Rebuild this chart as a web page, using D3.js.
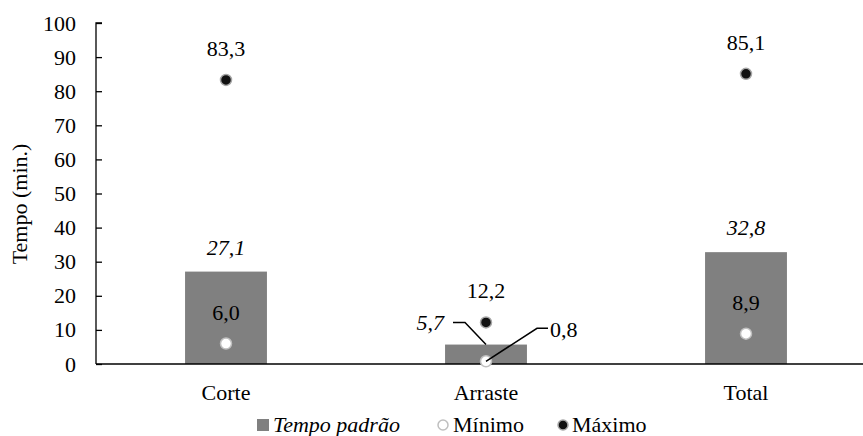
<!DOCTYPE html>
<html>
<head>
<meta charset="utf-8">
<script src="https://cdn.jsdelivr.net/npm/d3@7"></script>
<style>
  body { margin: 0; background: #fff; }
  svg text { font-family: "Liberation Serif", serif !important; }
</style>
</head>
<body>
<div id="chart"></div>
<script>
// data
const categories = ["Corte", "Arraste", "Total"];
const tempoPadrao = [27.1, 5.7, 32.8];
const minimo = [6.0, 0.8, 8.9];
const maximo = [83.3, 12.2, 85.1];
const yTicks = [0, 10, 20, 30, 40, 50, 60, 70, 80, 90, 100];

const width = 863, height = 436;
const FONT = "Liberation Serif";
const FS = 22;
const fmt = v => d3.format(".1f")(v).replace(".", ",");

const svg = d3.select("#chart")
    .append("svg")
    .attr("width", width)
    .attr("height", height);

const x = d3.scaleBand()
    .domain(categories)
    .range([96, 876])
    .paddingInner(0.685)
    .paddingOuter(0.3425);

const y = d3.scaleLinear()
    .domain([0, 100])
    .range([364, 23]);

// helper for all text
function label(sel) {
    return sel.attr("font-family", FONT)
        .style("font-family", FONT, "important")
        .attr("font-size", FS);
}

// bars
svg.selectAll("rect.bar")
    .data(categories)
    .join("rect")
    .attr("class", "bar")
    .attr("x", d => x(d))
    .attr("y", (d, i) => y(tempoPadrao[i]))
    .attr("width", x.bandwidth())
    .attr("height", (d, i) => y(0) - y(tempoPadrao[i]))
    .attr("fill", "#808080");

// y axis (ticks point inside, labels drawn separately)
const yAxis = svg.append("g")
    .attr("transform", `translate(96,0)`)
    .call(d3.axisRight(y).tickValues(yTicks).tickSize(6).tickFormat(""));
yAxis.select(".domain").attr("d", `M6,${y(100)}H0V${y(0)}`).attr("stroke", "#000").attr("stroke-width", 1.3);
yAxis.selectAll(".tick line").attr("stroke", "#000").attr("stroke-width", 1.3);
yAxis.selectAll(".tick text").remove();

svg.selectAll("text.ytick")
    .data(yTicks)
    .join("text")
    .attr("class", "ytick")
    .attr("x", 76)
    .attr("y", d => y(d) + 7.5)
    .attr("text-anchor", "end")
    .call(label)
    .text(d => d);

// x axis
svg.append("line")
    .attr("x1", 96).attr("x2", 876)
    .attr("y1", y(0)).attr("y2", y(0))
    .attr("stroke", "#000").attr("stroke-width", 1.5);

svg.selectAll("text.xcat")
    .data(categories)
    .join("text")
    .attr("class", "xcat")
    .attr("x", d => x(d) + x.bandwidth() / 2)
    .attr("y", 400)
    .attr("text-anchor", "middle")
    .call(label)
    .text(d => d);

// y label
svg.append("text")
    .attr("transform", "translate(27,204) rotate(-90)")
    .attr("text-anchor", "middle")
    .call(label)
    .text("Tempo (min.)");

// points
const cx = d => x(d) + x.bandwidth() / 2;
svg.selectAll("circle.max")
    .data(categories)
    .join("circle")
    .attr("class", "max")
    .attr("cx", cx)
    .attr("cy", (d, i) => y(maximo[i]))
    .attr("r", 5.5)
    .attr("fill", "#111")
    .attr("stroke", "#a6a6a6")
    .attr("stroke-width", 1.5);

svg.selectAll("circle.min")
    .data(categories)
    .join("circle")
    .attr("class", "min")
    .attr("cx", cx)
    .attr("cy", (d, i) => y(minimo[i]))
    .attr("r", 5.5)
    .attr("fill", "#fff")
    .attr("stroke", "#bfbfbf")
    .attr("stroke-width", 1.5);

// labels
svg.selectAll("text.maxlab")
    .data(categories)
    .join("text")
    .attr("class", "maxlab")
    .attr("x", cx)
    .attr("y", (d, i) => y(maximo[i]) - 24)
    .attr("text-anchor", "middle")
    .call(label)
    .text((d, i) => fmt(maximo[i]));

// bar labels (Arraste one is moved aside with a leader line)
const barLab = categories.map((d, i) => d === "Arraste"
    ? { x: cx(d) - 42, y: y(tempoPadrao[i]) - 14.5, anchor: "end" }
    : { x: cx(d), y: y(tempoPadrao[i]) - 17, anchor: "middle" });
svg.selectAll("text.barlab")
    .data(categories)
    .join("text")
    .attr("class", "barlab")
    .attr("x", (d, i) => barLab[i].x)
    .attr("y", (d, i) => barLab[i].y)
    .attr("text-anchor", (d, i) => barLab[i].anchor)
    .call(label)
    .attr("font-style", "italic")
    .text((d, i) => fmt(tempoPadrao[i]));

const minLab = categories.map((d, i) => d === "Arraste"
    ? { x: cx(d) + 64, y: y(minimo[i]) - 24, anchor: "start" }
    : { x: cx(d), y: y(minimo[i]) - 24, anchor: "middle" });
svg.selectAll("text.minlab")
    .data(categories)
    .join("text")
    .attr("class", "minlab")
    .attr("x", (d, i) => minLab[i].x)
    .attr("y", (d, i) => minLab[i].y)
    .attr("text-anchor", (d, i) => minLab[i].anchor)
    .call(label)
    .text((d, i) => fmt(minimo[i]));

// leader lines for Arraste
const ai = categories.indexOf("Arraste");
const ax = cx("Arraste");
svg.append("path")
    .attr("d", `M${ax - 33},${y(tempoPadrao[ai]) - 22}H${ax - 21}L${ax},${y(tempoPadrao[ai])}`)
    .attr("fill", "none").attr("stroke", "#000").attr("stroke-width", 1.5);
svg.append("path")
    .attr("d", `M${ax + 62},${y(minimo[ai]) - 33}H${ax + 51}L${ax},${y(minimo[ai])}`)
    .attr("fill", "none").attr("stroke", "#000").attr("stroke-width", 1.5);

// legend
const leg = svg.append("g");
leg.append("rect")
    .attr("x", 257).attr("y", 419).attr("width", 12).attr("height", 12)
    .attr("fill", "#808080");
leg.append("text")
    .attr("x", 273).attr("y", 432)
    .call(label)
    .attr("font-style", "italic")
    .text("Tempo padrão");
leg.append("circle")
    .attr("cx", 443).attr("cy", 425).attr("r", 5)
    .attr("fill", "#fff").attr("stroke", "#bfbfbf").attr("stroke-width", 1.5);
leg.append("text")
    .attr("x", 453).attr("y", 432)
    .call(label)
    .text("Mínimo");
leg.append("circle")
    .attr("cx", 563).attr("cy", 425).attr("r", 5)
    .attr("fill", "#111").attr("stroke", "#a6a6a6").attr("stroke-width", 1.5);
leg.append("text")
    .attr("x", 572).attr("y", 432)
    .call(label)
    .text("Máximo");
</script>
</body>
</html>
